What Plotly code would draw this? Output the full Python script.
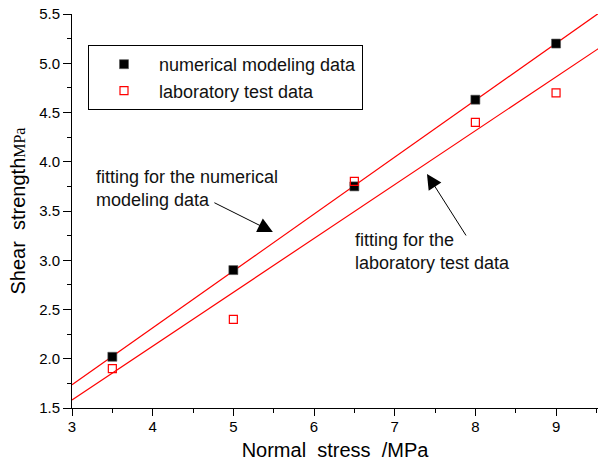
import numpy as np
import plotly.graph_objects as go

# Normal stress (MPa) at which shear strength was evaluated
normal_stress = [3.5, 5.0, 6.5, 8.0, 9.0]
# Shear strength (MPa)
numerical_strength = [2.02, 2.90, 3.75, 4.63, 5.20]
laboratory_strength = [1.90, 2.40, 3.80, 4.40, 4.70]

x_ticks = [3, 4, 5, 6, 7, 8, 9]
y_ticks = [1.5, 2.0, 2.5, 3.0, 3.5, 4.0, 4.5, 5.0, 5.5]
y_tick_text = [f"{v:.1f}" for v in y_ticks]

X_RANGE = [3.0, 9.52]
Y_RANGE = [1.5, 5.5]

# Least-squares linear fits of each data set
x_fit = np.array([3.0, 9.6])
num_slope, num_icpt = np.polyfit(normal_stress, numerical_strength, 1)
lab_slope, lab_icpt = np.polyfit(normal_stress, laboratory_strength, 1)

fig = go.Figure()

fig.add_trace(go.Scatter(
    x=x_fit, y=num_slope * x_fit + num_icpt, mode="lines",
    line=dict(color="#ff0000", width=1.2), showlegend=False, cliponaxis=True))
fig.add_trace(go.Scatter(
    x=x_fit, y=lab_slope * x_fit + lab_icpt, mode="lines",
    line=dict(color="#ff0000", width=1.2), showlegend=False, cliponaxis=True))

fig.add_trace(go.Scatter(
    x=normal_stress, y=numerical_strength, mode="markers",
    name="numerical modeling data",
    marker=dict(symbol="square", size=9, color="#000000",
                line=dict(color="#555555", width=0.6)),
    cliponaxis=False))
fig.add_trace(go.Scatter(
    x=normal_stress, y=laboratory_strength, mode="markers",
    name="laboratory test data",
    marker=dict(symbol="square-open", size=8, color="#ff0000",
                line=dict(color="#ff0000", width=1.2)),
    cliponaxis=False))

text_font = dict(family="Liberation Sans, Arial, sans-serif", size=18, color="#111111")

fig.add_annotation(
    x=3.273, y=3.733, xref="x", yref="y", xanchor="left", yanchor="middle",
    align="left", showarrow=False, font=text_font,
    text="fitting for the numerical<br>modeling data")
fig.add_annotation(
    x=6.483, y=3.084, xref="x", yref="y", xanchor="left", yanchor="middle",
    align="left", showarrow=False, font=text_font,
    text="fitting for the<br>laboratory test data")

# Arrows pointing at the two fitted lines
fig.add_annotation(
    x=5.49, y=3.287, xref="x", yref="y", ax=-60, ay=-30, text="",
    showarrow=True, arrowhead=2, arrowsize=3.0, arrowwidth=1, arrowcolor="#000000")
fig.add_annotation(
    x=7.40, y=3.876, xref="x", yref="y", ax=40, ay=63, text="",
    showarrow=True, arrowhead=2, arrowsize=3.0, arrowwidth=1, arrowcolor="#000000")

axis_font = dict(family="Liberation Sans, Arial, sans-serif", size=15, color="#000000")

fig.update_layout(
    width=598, height=466,
    margin=dict(l=72, r=0, t=14, b=58),
    paper_bgcolor="white", plot_bgcolor="white",
    font=dict(family="Liberation Sans, Arial, sans-serif", color="#000000"),
    legend=dict(
        x=(88 - 72) / 526, y=(408 - 45) / 394, xanchor="left", yanchor="top",
        bordercolor="#000000", borderwidth=1, bgcolor="white",
        font=dict(family="Liberation Sans, Arial, sans-serif", size=18, color="#111111"),
        itemwidth=60, tracegroupgap=0,
    ),
    xaxis=dict(
        range=X_RANGE, tickvals=x_ticks, ticktext=[str(v) for v in x_ticks],
        showgrid=False, zeroline=False, showline=True, linecolor="#000000", linewidth=1,
        ticks="outside", ticklen=7, tickwidth=1, tickcolor="#000000",
        ticklabelstandoff=-2,
        minor=dict(dtick=0.5, ticks="outside", ticklen=4, tickcolor="#000000", showgrid=False),
        tickfont=axis_font,
        title=dict(text="Normal  stress  /MPa", standoff=8,
                   font=dict(family="Liberation Sans, Arial, sans-serif", size=20)),
    ),
    yaxis=dict(
        range=Y_RANGE, tickvals=y_ticks, ticktext=y_tick_text,
        showgrid=False, zeroline=False, showline=True, linecolor="#000000", linewidth=1,
        ticks="outside", ticklen=8, tickwidth=1, tickcolor="#000000",
        minor=dict(dtick=0.25, ticks="outside", ticklen=4, tickcolor="#000000", showgrid=False),
        tickfont=axis_font,
        title=dict(
            text="Shear  strength<span style='font-family:Liberation Serif, Times New Roman, serif;font-size:16px'>MPa</span>",
            standoff=8,
            font=dict(family="Liberation Sans, Arial, sans-serif", size=20)),
    ),
)

fig.write_html("out.html")
